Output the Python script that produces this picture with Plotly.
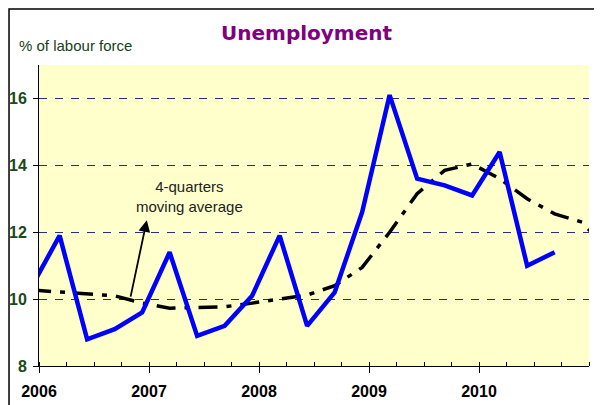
import plotly.graph_objects as go

# quarterly unemployment, % of labour force
quarters = ["2005Q4",
            "2006Q1", "2006Q2", "2006Q3", "2006Q4",
            "2007Q1", "2007Q2", "2007Q3", "2007Q4",
            "2008Q1", "2008Q2", "2008Q3", "2008Q4",
            "2009Q1", "2009Q2", "2009Q3", "2009Q4",
            "2010Q1", "2010Q2", "2010Q3"]
unemployment = [10.4,
                11.9, 8.8, 9.1, 9.6,
                11.4, 8.9, 9.2, 10.1,
                11.9, 9.2, 10.2, 12.6,
                16.1, 13.6, 13.4, 13.1,
                14.4, 11.0, 11.4]

# 4-quarters moving average (runs a bit further)
ma_quarters = quarters + ["2010Q4", "2011Q1"]
moving_avg = [10.27,
              10.22, 10.17, 10.10, 9.88,
              9.73, 9.75, 9.77, 9.88,
              10.0, 10.12, 10.4, 10.95,
              12.0, 13.15, 13.85, 14.04,
              13.6, 13.0, 12.55, 12.3,
              11.4]

years = [2006, 2007, 2008, 2009, 2010]


def qpos(label):
    # points sit near the end of each quarter
    y, q = int(label[:4]), int(label[-1])
    return y + (q - 0.25) / 4


fig = go.Figure()
fig.add_trace(go.Scatter(x=[qpos(q) for q in ma_quarters], y=moving_avg,
                         mode="lines", line=dict(color="black", width=3.5, dash="19px,9px,5px,9px"),
                         hoverinfo="skip"))
fig.add_trace(go.Scatter(x=[qpos(q) for q in quarters], y=unemployment,
                         mode="lines", line=dict(color="#0000FF", width=4.5)))

# arrow pointing at the moving average
fig.add_annotation(x=2006.98, y=12.36, ax=2006.83, ay=10.03, axref="x", ayref="y",
                   text="", showarrow=True, arrowhead=2, arrowsize=1.3, arrowwidth=1.8,
                   arrowcolor="black")
fig.add_annotation(x=2007.37, y=13.07, text="4-quarters<br>moving average", showarrow=False,
                   font=dict(family="Liberation Sans, Arial", size=15, color="#222222"))

fig.add_annotation(xref="paper", yref="paper", x=0.487, y=1.106, yanchor="middle",
                   text="<b>Unemployment</b>", showarrow=False,
                   font=dict(family="DejaVu Sans", size=20, color="#800080"))
fig.add_annotation(xref="paper", yref="paper", x=-0.04, y=1.066, xanchor="left", yanchor="middle",
                   text="% of labour force", showarrow=False,
                   font=dict(family="Liberation Sans, Arial", size=15, color="#1a3d1a"))

# outer frame (only the top and left edges show)
fig.add_shape(type="rect", xref="paper", yref="paper", x0=-0.0545, x1=1.2, y0=-0.3, y1=1.186,
              line=dict(color="black", width=1.5), layer="below")

fig.update_xaxes(range=[2006, 2011], tickvals=years, ticktext=[str(y) for y in years],
                 showgrid=False, zeroline=False, showline=True, linecolor="black", linewidth=1,
                 ticks="outside", ticklen=6, tickcolor="black", ticklabelstandoff=5, automargin=False,
                 minor=dict(ticks="inside", dtick=0.25, tick0=2006, ticklen=4, tickcolor="black", showgrid=False),
                 tickfont=dict(family="Liberation Sans, Arial", size=16, color="black", weight="bold"))
fig.update_yaxes(range=[8, 17], tickvals=[8, 10, 12, 14, 16], showgrid=True,
                 gridcolor="#2a2a88", griddash="8px,8px", gridwidth=1, zeroline=False,
                 showline=True, linecolor="black", linewidth=1, automargin=False,
                 ticks="outside", ticklen=5, tickcolor="black", ticklabelstandoff=3,
                 tickfont=dict(family="Liberation Sans, Arial", size=16, color="#1a4a1a", weight="bold"))

# page body adds ~8px margin, so the figure is a bit smaller than the window
fig.update_layout(width=594, height=397, showlegend=False,
                  margin=dict(l=31, r=13, t=57, b=39),
                  paper_bgcolor="white", plot_bgcolor="#FFFFCC")

fig.write_html("out.html")
